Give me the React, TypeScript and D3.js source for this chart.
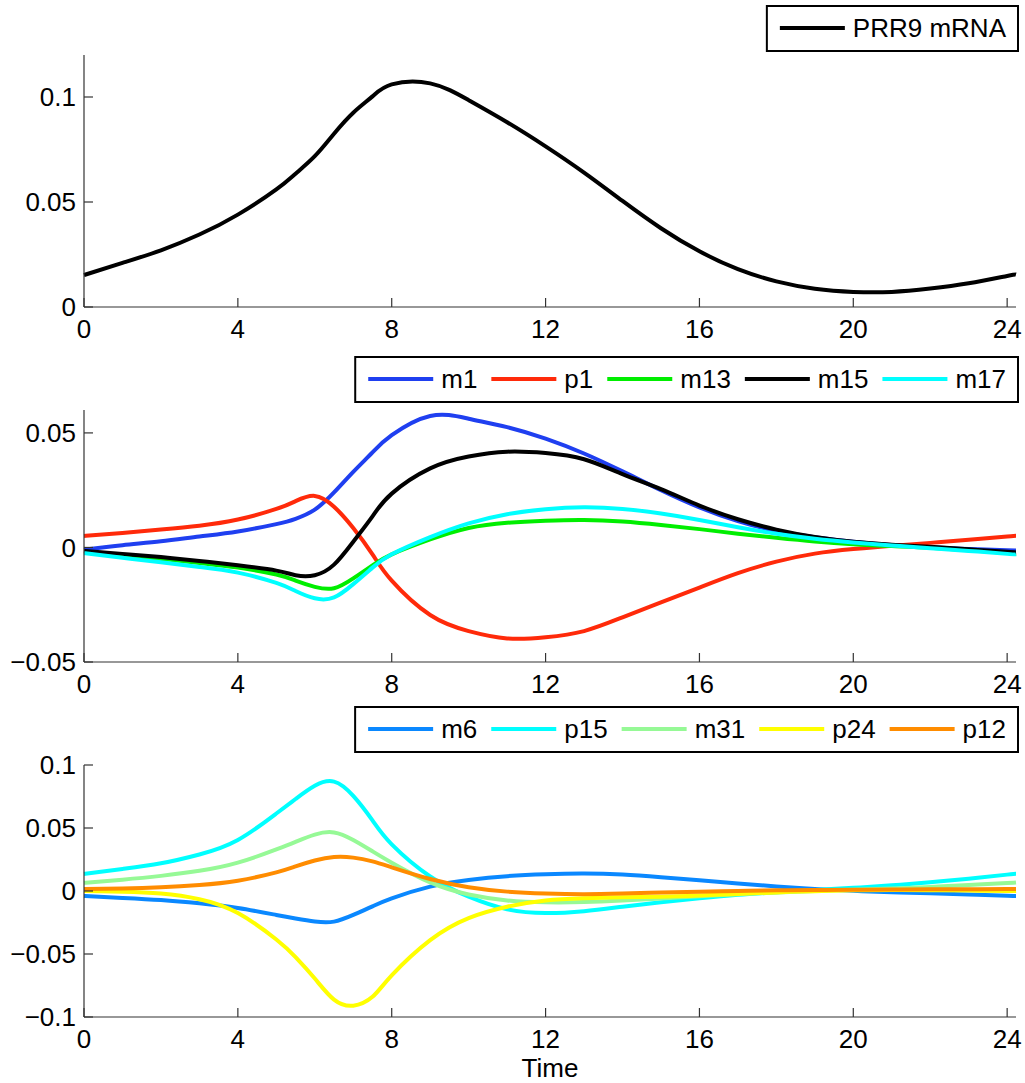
import React, { useEffect, useRef } from 'react';
import * as d3 from 'd3';

// time points (hours)
const time = [0, 1, 2, 3, 4, 5, 5.5, 6, 6.5, 7, 7.5, 8, 9, 10, 11, 12, 13, 14, 15, 16, 17, 18, 19, 20, 21, 22, 23, 24, 24.23];
const xTicks = [0, 4, 8, 12, 16, 20, 24];

// panel 1
const prr9 = [0.0152, 0.021, 0.027, 0.0345, 0.044, 0.056, 0.0635, 0.0718, 0.0825, 0.0925, 0.1003, 0.106, 0.1065, 0.0985, 0.088, 0.0765, 0.064, 0.0505, 0.0375, 0.0265, 0.018, 0.0122, 0.0087, 0.0072, 0.0072, 0.0088, 0.0113, 0.0148, 0.0155];

// panel 2
const m1 = [-0.001, 0.001, 0.0027, 0.0048, 0.007, 0.0102, 0.0125, 0.0165, 0.024, 0.033, 0.0415, 0.049, 0.0574, 0.0562, 0.0525, 0.0475, 0.041, 0.0332, 0.025, 0.0175, 0.0115, 0.0072, 0.0045, 0.0025, 0.0011, 0.0001, -0.0007, -0.0012, -0.0013];
const p1 = [0.005, 0.0063, 0.0078, 0.0095, 0.0122, 0.0168, 0.0202, 0.0225, 0.0178, 0.0085, -0.003, -0.0145, -0.0295, -0.0365, -0.0397, -0.0392, -0.0365, -0.0305, -0.024, -0.0175, -0.0112, -0.0062, -0.0027, -0.0007, 0.0007, 0.002, 0.0034, 0.0048, 0.0051];
const m13 = [-0.002, -0.0035, -0.005, -0.0068, -0.0088, -0.0118, -0.0145, -0.0172, -0.0178, -0.0135, -0.0078, -0.003, 0.0035, 0.0085, 0.0108, 0.0117, 0.012, 0.0113, 0.0098, 0.008, 0.006, 0.0042, 0.0026, 0.0014, 0.0006, -0.0001, -0.0012, -0.0024, -0.0026];
const m15 = [-0.0015, -0.0028, -0.0042, -0.0059, -0.0078, -0.0101, -0.0121, -0.0121, -0.0075, 0.0025, 0.0136, 0.0235, 0.0345, 0.0397, 0.0418, 0.0412, 0.0385, 0.032, 0.0255, 0.0183, 0.0123, 0.0078, 0.0046, 0.0025, 0.0012, 0.0003, -0.0008, -0.0019, -0.0021];
const m17 = [-0.0025, -0.0045, -0.0065, -0.0085, -0.011, -0.0155, -0.019, -0.0222, -0.0218, -0.016, -0.0088, -0.003, 0.0045, 0.0105, 0.0145, 0.0167, 0.0175, 0.0168, 0.0148, 0.012, 0.0088, 0.006, 0.0038, 0.0022, 0.0009, -0.0003, -0.0015, -0.0028, -0.003];

// panel 3
const m6 = [-0.004, -0.0055, -0.0072, -0.0098, -0.0135, -0.019, -0.0218, -0.0242, -0.0243, -0.019, -0.0122, -0.0058, 0.0035, 0.0088, 0.0118, 0.0133, 0.0138, 0.013, 0.011, 0.0086, 0.006, 0.0036, 0.0016, 0.0001, -0.001, -0.0018, -0.0027, -0.0037, -0.0039];
const p15 = [0.0135, 0.0175, 0.022, 0.029, 0.0405, 0.0615, 0.073, 0.0835, 0.0868, 0.0755, 0.056, 0.037, 0.0115, -0.0045, -0.0145, -0.0175, -0.016, -0.0125, -0.009, -0.0058, -0.003, -0.001, 0.0008, 0.0025, 0.0045, 0.007, 0.0098, 0.013, 0.0137];
const m31 = [0.0065, 0.009, 0.012, 0.016, 0.0225, 0.033, 0.039, 0.0448, 0.0465, 0.0405, 0.0315, 0.0225, 0.0068, -0.0028, -0.0075, -0.009, -0.0088, -0.0076, -0.006, -0.0042, -0.0026, -0.0012, 0, 0.001, 0.002, 0.0032, 0.0047, 0.0063, 0.0067];
const p24 = [0, -0.0005, -0.002, -0.0065, -0.0175, -0.0385, -0.0525, -0.0695, -0.0862, -0.091, -0.084, -0.067, -0.039, -0.0215, -0.0125, -0.0075, -0.0058, -0.005, -0.0045, -0.0035, -0.0023, -0.0011, -0.0001, 0.0005, 0.0008, 0.0006, 0.0003, 0, 0];
const p12 = [0.0015, 0.002, 0.003, 0.0048, 0.0082, 0.0148, 0.0195, 0.0242, 0.027, 0.0265, 0.0235, 0.0188, 0.0095, 0.003, -0.0005, -0.002, -0.0025, -0.002, -0.0012, -0.0005, 0, 0.0005, 0.0008, 0.001, 0.0012, 0.0013, 0.0014, 0.0015, 0.0015];

type Series = { name: string; values: number[]; color: string };

const panels: { series: Series[]; yDomain: [number, number]; yTicks: number[]; top: number; bottom: number; legendTop: number; xLabel?: string }[] = [
  {
    series: [{ name: 'PRR9 mRNA', values: prr9, color: '#000000' }],
    yDomain: [0, 0.12], yTicks: [0, 0.05, 0.1], top: 55, bottom: 307, legendTop: 6,
  },
  {
    series: [
      { name: 'm1', values: m1, color: '#1f3ff0' },
      { name: 'p1', values: p1, color: '#ff2a0a' },
      { name: 'm13', values: m13, color: '#00ee00' },
      { name: 'm15', values: m15, color: '#000000' },
      { name: 'm17', values: m17, color: '#00ffff' },
    ],
    yDomain: [-0.05, 0.06], yTicks: [-0.05, 0, 0.05], top: 410, bottom: 662, legendTop: 357,
  },
  {
    series: [
      { name: 'm6', values: m6, color: '#0a88ff' },
      { name: 'p15', values: p15, color: '#00ffff' },
      { name: 'm31', values: m31, color: '#96f996' },
      { name: 'p24', values: p24, color: '#ffff00' },
      { name: 'p12', values: p12, color: '#ff8c00' },
    ],
    yDomain: [-0.1, 0.1], yTicks: [-0.1, -0.05, 0, 0.05, 0.1], top: 765, bottom: 1017, legendTop: 707, xLabel: 'Time',
  },
];

const FONT = '"Liberation Sans", Arial, Helvetica, sans-serif';
const FS = 26;

function fmt(v: number) {
  if (v === 0) return '0';
  const s = String(+v.toFixed(3));
  return s.replace('-', '\u2212');
}

export default function App() {
  const ref = useRef<SVGSVGElement>(null);

  useEffect(() => {
    const svg = d3.select(ref.current);
    svg.selectAll('*').remove();
    const x = d3.scaleLinear([0, 24.23], [84, 1016]);
    const legendRight = 1018;

    panels.forEach((p) => {
      const y = d3.scaleLinear(p.yDomain, [p.bottom, p.top]);
      const g = svg.append('g');

      // lines
      const line = d3.line<number>()
        .x((_, i) => x(time[i]))
        .y((d) => y(d))
        .curve(d3.curveNatural);
      p.series.forEach((s) => {
        g.append('path').attr('d', line(s.values)).attr('fill', 'none')
          .attr('stroke', s.color).attr('stroke-width', 4).attr('stroke-linejoin', 'round');
      });

      // axes
      const axis = g.append('g').attr('stroke', '#333').attr('stroke-width', 1.2);
      axis.append('line').attr('x1', x(0)).attr('x2', x(0)).attr('y1', p.top).attr('y2', p.bottom);
      axis.append('line').attr('x1', x(0)).attr('x2', 1016).attr('y1', p.bottom).attr('y2', p.bottom);
      xTicks.forEach((t) => {
        axis.append('line').attr('x1', x(t)).attr('x2', x(t)).attr('y1', p.bottom).attr('y2', p.bottom - 9);
        g.append('text').attr('x', x(t)).attr('y', p.bottom + 31).attr('text-anchor', 'middle')
          .attr('font-family', FONT).attr('font-size', FS).text(String(t));
      });
      p.yTicks.forEach((t) => {
        axis.append('line').attr('x1', x(0)).attr('x2', x(0) + 9).attr('y1', y(t)).attr('y2', y(t));
        g.append('text').attr('x', x(0) - 8).attr('y', y(t)).attr('dy', '0.36em').attr('text-anchor', 'end')
          .attr('font-family', FONT).attr('font-size', FS).text(fmt(t));
      });
      if (p.xLabel) {
        g.append('text').attr('x', (x(0) + 1016) / 2).attr('y', 1077).attr('text-anchor', 'middle')
          .attr('font-family', FONT).attr('font-size', FS).text(p.xLabel);
      }

      // legend, right aligned
      const lg = svg.append('g');
      const box = lg.append('rect').attr('fill', '#fff').attr('stroke', '#000').attr('stroke-width', 2);
      const cy = p.legendTop + 22;
      const widths: number[] = [];
      const texts = p.series.map((s) => {
        const t = lg.append('text').attr('y', cy).attr('dy', '0.36em')
          .attr('font-family', FONT).attr('font-size', FS).text(s.name);
        widths.push((t.node() as SVGTextElement).getComputedTextLength());
        return t;
      });
      const padL = 13, lineLen = 65, gap = 8, after = 14, padR = 12;
      const total = padL + d3.sum(widths, (w) => lineLen + gap + w) + after * (widths.length - 1) + padR;
      const left = legendRight - total;
      box.attr('x', left).attr('y', p.legendTop).attr('width', total).attr('height', 45);
      let cx = left + padL;
      p.series.forEach((s, i) => {
        lg.append('line').attr('x1', cx).attr('x2', cx + lineLen).attr('y1', cy).attr('y2', cy)
          .attr('stroke', s.color).attr('stroke-width', 4);
        texts[i].attr('x', cx + lineLen + gap).raise();
        cx += lineLen + gap + widths[i] + after;
      });
    });
  }, []);

  return (
    <svg ref={ref} width={1025} height={1083}
      style={{ position: 'absolute', left: 0, top: 0, background: '#fff' }} />
  );
}
